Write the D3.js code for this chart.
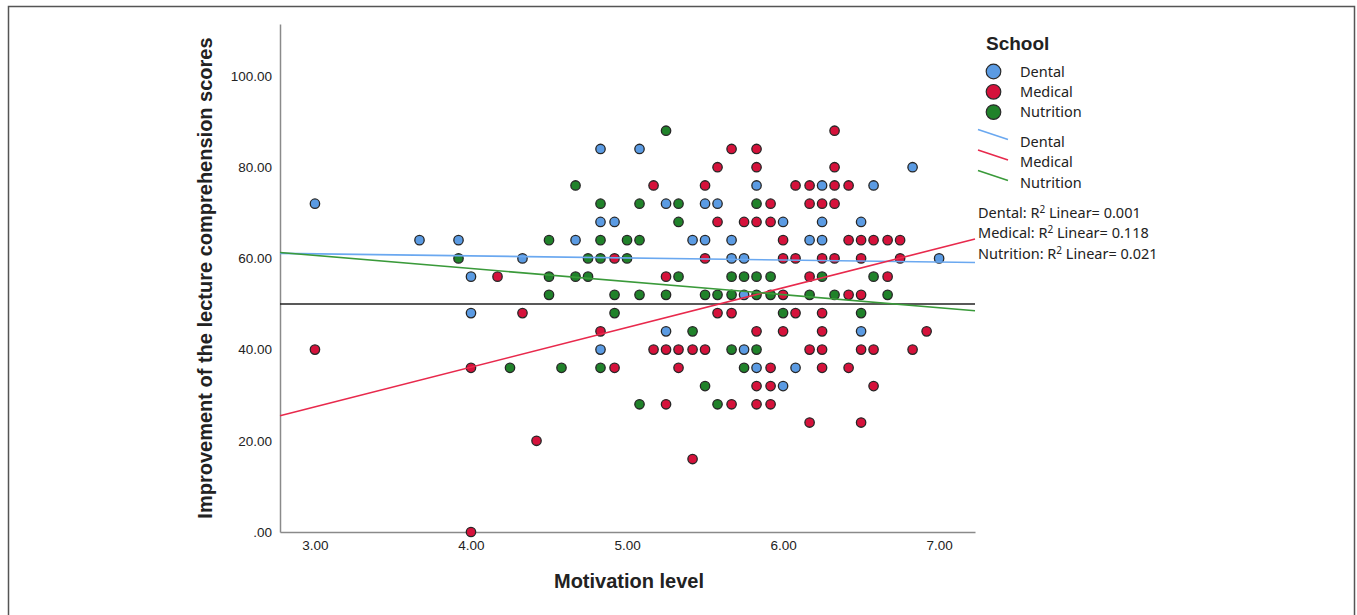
<!DOCTYPE html>
<html>
<head>
<meta charset="utf-8">
<script src="https://cdn.jsdelivr.net/npm/d3@7"></script>
<style>
  body { margin: 0; background: #fff; }
  svg { display: block; }
</style>
</head>
<body>
<svg id="chart" width="1357" height="615"></svg>
<script>
// values: [motivation level, improvement score]
const dentalPoints = [
  [3.00, 72], [3.67, 64], [3.92, 64], [4.33, 60], [4.00, 56], [4.00, 48],
  [4.83, 84], [5.08, 84], [5.25, 72], [4.83, 68], [4.92, 68], [4.67, 64], [5.42, 64],
  [5.25, 44], [4.83, 40],
  [5.83, 76], [6.25, 76], [5.50, 72], [5.58, 72], [6.00, 68], [6.25, 68],
  [5.50, 64], [5.67, 64], [6.17, 64], [6.25, 64], [5.67, 60], [5.75, 60], [5.75, 52],
  [5.75, 40], [5.83, 36], [6.08, 36], [6.00, 32],
  [6.83, 80], [6.58, 76], [6.50, 68], [7.00, 60], [6.50, 44]
];
const medicalPoints = [
  [4.17, 56], [4.33, 48], [3.00, 40], [4.00, 36], [4.00, 0], [4.42, 20],
  [5.17, 76], [4.92, 60], [5.25, 56],
  [4.83, 44], [5.17, 40], [5.25, 40], [5.33, 40], [5.42, 40], [4.92, 36], [5.33, 36], [5.25, 28], [5.42, 16],
  [6.33, 88], [5.67, 84], [5.83, 84], [5.58, 80], [5.83, 80], [6.33, 80],
  [5.50, 76], [6.08, 76], [6.17, 76], [6.33, 76], [6.42, 76],
  [5.92, 72], [6.17, 72], [6.25, 72], [6.33, 72],
  [5.58, 68], [5.75, 68], [5.83, 68], [5.92, 68],
  [6.00, 64], [6.42, 64],
  [5.50, 60], [6.00, 60], [6.08, 60], [6.25, 60], [6.33, 60],
  [6.17, 56], [6.00, 52], [6.42, 52],
  [5.58, 48], [5.67, 48], [6.08, 48], [6.25, 48],
  [5.83, 44], [6.00, 44], [6.25, 44],
  [5.50, 40], [6.17, 40], [6.25, 40],
  [5.92, 36], [6.25, 36], [6.42, 36],
  [5.83, 32], [5.92, 32],
  [5.67, 28], [5.83, 28], [5.92, 28],
  [6.17, 24],
  [6.50, 64], [6.58, 64], [6.67, 64], [6.75, 64],
  [6.50, 60], [6.75, 60], [6.67, 56], [6.50, 52], [6.92, 44],
  [6.50, 40], [6.58, 40], [6.83, 40], [6.58, 32], [6.50, 24]
];
const nutritionPoints = [
  [3.92, 60], [4.25, 36],
  [5.25, 88], [4.67, 76], [4.83, 72], [5.08, 72], [5.33, 72], [5.33, 68],
  [4.50, 64], [4.83, 64], [5.00, 64], [5.08, 64],
  [4.75, 60], [4.83, 60], [5.00, 60],
  [4.50, 56], [4.67, 56], [4.75, 56], [5.33, 56],
  [4.50, 52], [4.92, 52], [5.08, 52], [5.25, 52],
  [4.92, 48], [5.42, 44], [4.58, 36], [4.83, 36], [5.08, 28],
  [5.83, 72], [5.67, 56], [5.75, 56], [5.83, 56], [5.92, 56], [6.25, 56],
  [5.50, 52], [5.58, 52], [5.67, 52], [5.83, 52], [5.92, 52], [6.17, 52], [6.33, 52],
  [6.00, 48], [5.67, 40], [5.83, 40], [5.75, 36], [5.50, 32], [5.58, 28],
  [6.58, 56], [6.67, 52], [6.50, 48]
];

const schools = ["Dental", "Medical", "Nutrition"];
// fit lines: [intercept, slope]
const fitLines = [[62.35, -0.45], [1.35, 8.70], [69.27, -2.87]];
const r2Values = ["0.001", "0.118", "0.021"];
const referenceLevel = 50;

const xTicks = [3, 4, 5, 6, 7];
const yTicks = [0, 20, 40, 60, 80, 100];

const pointColors = ["#5b9be3", "#d5123b", "#20822a"];
const lineColors = ["#6aa8f0", "#e8294c", "#3a9a3a"];

const svg = d3.select("#chart");

// outer frame
svg.append("rect")
  .attr("x", 8.5).attr("y", 6.5)
  .attr("width", 1346).attr("height", 700)
  .attr("fill", "none").attr("stroke", "#555").attr("stroke-width", 1.5);

const x = d3.scaleLinear().domain([2.776, 7.23]).range([280, 975]);
const y = d3.scaleLinear().domain([0, 111.4]).range([532, 24]);

const axisFont = "'Liberation Sans', Arial, sans-serif";
const legendFont = "'Noto Sans', Lato, sans-serif";

// axes
const xAxis = svg.append("g")
  .attr("transform", "translate(0,532)")
  .call(d3.axisBottom(x).tickValues(xTicks).tickSize(0).tickPadding(8).tickFormat(d3.format(".2f")));
const yAxis = svg.append("g")
  .attr("transform", "translate(280,0)")
  .call(d3.axisLeft(y).tickValues(yTicks).tickSize(0).tickPadding(8)
    .tickFormat(d => d === 0 ? ".00" : d3.format(".2f")(d)));
[xAxis, yAxis].forEach(g => {
  g.select(".domain").attr("stroke", "#8a8a8a").attr("stroke-width", 1.5);
  g.selectAll("text").attr("font-family", axisFont).attr("font-size", 13.5).attr("fill", "#222");
});

svg.append("text")
  .attr("x", 629).attr("y", 588)
  .attr("text-anchor", "middle")
  .attr("font-family", axisFont).attr("font-weight", "bold").attr("font-size", 20)
  .attr("fill", "#222")
  .text("Motivation level");

svg.append("text")
  .attr("transform", "translate(212,278) rotate(-90)")
  .attr("text-anchor", "middle")
  .attr("font-family", axisFont).attr("font-weight", "bold").attr("font-size", 20)
  .attr("fill", "#222")
  .text("Improvement of the lecture comprehension scores");

// points
const allPoints = [dentalPoints, medicalPoints, nutritionPoints];
allPoints.forEach((pts, i) => {
  svg.append("g").selectAll("circle")
    .data(pts)
    .enter()
    .append("circle")
    .attr("cx", d => x(d[0]))
    .attr("cy", d => y(d[1]))
    .attr("r", 4.7)
    .attr("fill", pointColors[i])
    .attr("stroke", "#262626")
    .attr("stroke-width", 1.3);
});

// reference line
const xd = x.domain();
svg.append("line")
  .attr("x1", x(xd[0])).attr("x2", x(xd[1]))
  .attr("y1", y(referenceLevel)).attr("y2", y(referenceLevel))
  .attr("stroke", "#222").attr("stroke-width", 1.3);

// fit lines
fitLines.forEach((f, i) => {
  svg.append("line")
    .attr("x1", x(xd[0])).attr("y1", y(f[0] + f[1] * xd[0]))
    .attr("x2", x(xd[1])).attr("y2", y(f[0] + f[1] * xd[1]))
    .attr("stroke", lineColors[i]).attr("stroke-width", 1.6);
});

// legend
const legend = svg.append("g").attr("font-family", legendFont).attr("fill", "#222");
legend.append("text")
  .attr("x", 986).attr("y", 50)
  .attr("font-family", axisFont).attr("font-weight", "bold").attr("font-size", 19)
  .text("School");

schools.forEach((s, i) => {
  const cy = 71.5 + i * 20.3;
  legend.append("circle")
    .attr("cx", 993.5).attr("cy", cy).attr("r", 7.3)
    .attr("fill", pointColors[i]).attr("stroke", "#2a2a2a").attr("stroke-width", 1.2);
  legend.append("text")
    .attr("x", 1020).attr("y", cy + 5)
    .attr("font-size", 14.5).text(s);
});

schools.forEach((s, i) => {
  const ly = 141.5 + i * 20.5;
  legend.append("line")
    .attr("x1", 978).attr("y1", ly - 12)
    .attr("x2", 1008).attr("y2", ly - 2)
    .attr("stroke", lineColors[i]).attr("stroke-width", 1.5);
  legend.append("text")
    .attr("x", 1020).attr("y", ly + 5)
    .attr("font-size", 14.5).text(s);
});

schools.forEach((s, i) => {
  const t = legend.append("text")
    .attr("x", 978).attr("y", 218 + i * 20.3)
    .attr("font-size", 14.5);
  t.append("tspan").text(s + ": R");
  t.append("tspan").attr("font-size", 10).attr("dy", -5).text("2");
  t.append("tspan").attr("dy", 5).text(" Linear= " + r2Values[i]);
});
</script>
</body>
</html>
